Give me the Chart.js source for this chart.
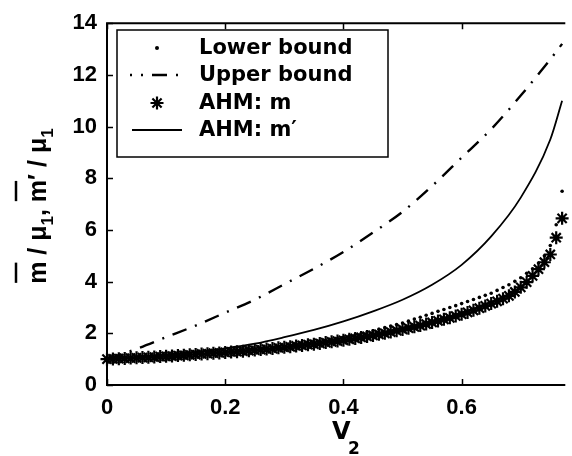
<!DOCTYPE html>
<html>
<head>
<meta charset="utf-8">
<title>Effective moduli against V2</title>
<script src="https://cdn.jsdelivr.net/npm/chart.js@4.4.1/dist/chart.umd.min.js"></script>
<style>
  html, body { margin: 0; padding: 0; background: #fff; }
  canvas { display: block; }
</style>
</head>
<body>
<canvas id="chart" width="572" height="456"></canvas>
<script>
// V2 samples used by the two marker series
const v2Samples = [
  0.00, 0.01, 0.02, 0.03, 0.04, 0.05, 0.06, 0.07, 0.08, 0.09,
  0.10, 0.11, 0.12, 0.13, 0.14, 0.15, 0.16, 0.17, 0.18, 0.19,
  0.20, 0.21, 0.22, 0.23, 0.24, 0.25, 0.26, 0.27, 0.28, 0.29,
  0.30, 0.31, 0.32, 0.33, 0.34, 0.35, 0.36, 0.37, 0.38, 0.39,
  0.40, 0.41, 0.42, 0.43, 0.44, 0.45, 0.46, 0.47, 0.48, 0.49,
  0.50, 0.51, 0.52, 0.53, 0.54, 0.55, 0.56, 0.57, 0.58, 0.59,
  0.60, 0.61, 0.62, 0.63, 0.64, 0.65, 0.66, 0.67, 0.68, 0.69,
  0.70, 0.71, 0.72, 0.73, 0.74, 0.75, 0.76, 0.77
];
const lowerBound = [
  1.00, 1.01, 1.02, 1.03, 1.04, 1.05, 1.06, 1.07, 1.09, 1.10,
  1.12, 1.13, 1.15, 1.16, 1.18, 1.19, 1.21, 1.23, 1.25, 1.26,
  1.28, 1.30, 1.32, 1.34, 1.36, 1.38, 1.41, 1.43, 1.45, 1.48,
  1.50, 1.53, 1.56, 1.59, 1.62, 1.65, 1.69, 1.72, 1.76, 1.80,
  1.85, 1.90, 1.95, 2.00, 2.05, 2.10, 2.16, 2.22, 2.28, 2.34,
  2.40, 2.47, 2.55, 2.62, 2.70, 2.77, 2.85, 2.92, 3.00, 3.07,
  3.15, 3.23, 3.31, 3.39, 3.47, 3.55, 3.66, 3.77, 3.88, 4.01,
  4.15, 4.32, 4.50, 4.72, 5.00, 5.40, 6.20, 7.50
];
const ahmM = [
  1.00, 1.01, 1.02, 1.03, 1.04, 1.05, 1.06, 1.07, 1.08, 1.10,
  1.11, 1.12, 1.14, 1.15, 1.17, 1.18, 1.20, 1.21, 1.23, 1.24,
  1.26, 1.28, 1.29, 1.31, 1.33, 1.35, 1.37, 1.39, 1.41, 1.44,
  1.46, 1.48, 1.51, 1.53, 1.56, 1.58, 1.61, 1.64, 1.67, 1.70,
  1.73, 1.77, 1.80, 1.84, 1.88, 1.92, 1.96, 2.00, 2.05, 2.10,
  2.15, 2.20, 2.25, 2.30, 2.36, 2.42, 2.48, 2.54, 2.60, 2.67,
  2.74, 2.81, 2.89, 2.97, 3.06, 3.15, 3.24, 3.34, 3.45, 3.60,
  3.78, 3.98, 4.22, 4.48, 4.75, 5.05, 5.70, 6.45
];

// coarser samples for the two smooth curves
const v2Curve = [0, 0.05, 0.10, 0.15, 0.20, 0.25, 0.30, 0.35, 0.40, 0.45, 0.50, 0.55, 0.60, 0.65, 0.70, 0.75, 0.77];
const upperBound = [1.00, 1.40, 1.85, 2.30, 2.80, 3.30, 3.90, 4.50, 5.15, 5.90, 6.70, 7.70, 8.80, 9.90, 11.20, 12.60, 13.20];
const ahmMPrime = [1.00, 1.08, 1.17, 1.28, 1.42, 1.60, 1.85, 2.13, 2.46, 2.85, 3.30, 3.88, 4.65, 5.75, 7.25, 9.50, 11.00];

const xTicks = [0, 0.2, 0.4, 0.6];
const yTicks = [0, 2, 4, 6, 8, 10, 12, 14];
const xMax = 0.772;

const FONT = '"Liberation Sans", Arial, Helvetica, sans-serif';
const WIDE_FONT = '"DejaVu Sans", Verdana, sans-serif';
const UPPER_DASH = [15, 9, 2, 9];

const toPoints = (xs, ys) => xs.map((x, i) => ({ x: x, y: ys[i] }));

function drawStar(ctx, x, y, r) {
  ctx.beginPath();
  for (let k = 0; k < 4; k++) {
    const a = k * Math.PI / 4;
    ctx.moveTo(x - r * Math.cos(a), y - r * Math.sin(a));
    ctx.lineTo(x + r * Math.cos(a), y + r * Math.sin(a));
  }
  ctx.stroke();
}

// draws a run of text pieces left to right, with optional overbar / subscript drop
function drawPieces(ctx, pieces, x0, y0) {
  let x = x0;
  pieces.forEach(p => {
    ctx.font = p.font;
    const w = ctx.measureText(p.text).width;
    ctx.fillText(p.text, x, y0 + (p.dy || 0));
    if (p.bar) {
      ctx.beginPath();
      ctx.moveTo(x + 1, y0 - p.bar);
      ctx.lineTo(x + w - 1, y0 - p.bar);
      ctx.stroke();
    }
    x += w;
  });
  return x - x0;
}

function piecesWidth(ctx, pieces) {
  return pieces.reduce((s, p) => { ctx.font = p.font; return s + ctx.measureText(p.text).width; }, 0);
}

const decorations = {
  id: 'decorations',
  beforeDraw(chart) {
    const ctx = chart.ctx;
    ctx.save();
    ctx.fillStyle = '#fff';
    ctx.fillRect(0, 0, chart.width, chart.height);
    ctx.restore();
  },
  afterDraw(chart) {
    const { ctx, chartArea: a, scales: { x, y } } = chart;
    ctx.save();
    ctx.strokeStyle = '#000';
    ctx.fillStyle = '#000';

    // axes box (right side runs off the canvas)
    ctx.lineWidth = 2;
    ctx.beginPath();
    ctx.moveTo(a.right + 2, a.top);
    ctx.lineTo(a.left, a.top);
    ctx.lineTo(a.left, a.bottom);
    ctx.lineTo(a.right + 2, a.bottom);
    ctx.stroke();

    // inward tick marks
    ctx.lineWidth = 1.5;
    ctx.beginPath();
    xTicks.forEach(v => {
      const px = Math.round(x.getPixelForValue(v)) + 0.5;
      ctx.moveTo(px, a.bottom); ctx.lineTo(px, a.bottom - 6);
      ctx.moveTo(px, a.top); ctx.lineTo(px, a.top + 6);
    });
    yTicks.forEach(v => {
      const py = Math.round(y.getPixelForValue(v)) + 0.5;
      ctx.moveTo(a.left, py); ctx.lineTo(a.left + 6, py);
    });
    ctx.stroke();

    // legend box
    const box = { left: 117, top: 30, right: 388, bottom: 157 };
    ctx.fillStyle = '#fff';
    ctx.fillRect(box.left, box.top, box.right - box.left, box.bottom - box.top);
    ctx.lineWidth = 1.5;
    ctx.strokeRect(box.left, box.top, box.right - box.left, box.bottom - box.top);

    const rowY = [48, 75, 103, 130];
    const sx0 = 130, sx1 = 184, sxm = 157;
    ctx.fillStyle = '#000';
    ctx.font = 'bold 21px ' + WIDE_FONT;
    ctx.textBaseline = 'middle';
    ctx.textAlign = 'left';
    chart.data.datasets.forEach((ds, i) => {
      const ry = rowY[i];
      ctx.setLineDash([]);
      if (ds.legendKind === 'dot') {
        ctx.beginPath(); ctx.arc(sxm, ry, 2, 0, Math.PI * 2); ctx.fill();
      } else if (ds.legendKind === 'dashdot') {
        ctx.lineWidth = ds.borderWidth;
        ctx.setLineDash(UPPER_DASH);
        ctx.lineDashOffset = 13;
        ctx.beginPath(); ctx.moveTo(sx0, ry); ctx.lineTo(sx1, ry); ctx.stroke();
        ctx.setLineDash([]);
        ctx.lineDashOffset = 0;
      } else if (ds.legendKind === 'star') {
        ctx.lineWidth = 2.2;
        drawStar(ctx, sxm, ry, 6.5);
      } else {
        ctx.lineWidth = ds.borderWidth;
        ctx.beginPath(); ctx.moveTo(sx0 + 2, ry); ctx.lineTo(sx1 - 2, ry); ctx.stroke();
      }
      ctx.fillText(ds.label, 199, ry + 1);
    });

    // x axis title: V with subscript 2
    ctx.textBaseline = 'alphabetic';
    ctx.font = 'bold 24px ' + WIDE_FONT;
    ctx.fillText('V', 332, 439);
    ctx.font = 'bold 17px ' + WIDE_FONT;
    ctx.fillText('2', 348, 454);

    // y axis title, rotated: m-bar / mu1, m-bar' / mu1
    const big = 'bold 25px ' + FONT, small = 'bold 17px ' + FONT;
    const pieces = [
      { text: 'm', font: big, bar: 30 }, { text: ' / ', font: big }, { text: 'μ', font: big },
      { text: '1', font: small, dy: 7 }, { text: ', ', font: big },
      { text: 'm', font: big, bar: 30 }, { text: '′', font: big }, { text: ' / ', font: big },
      { text: 'μ', font: big }, { text: '1', font: small, dy: 7 }
    ];
    ctx.save();
    ctx.translate(46, (a.top + a.bottom) / 2 + 2);
    ctx.rotate(-Math.PI / 2);
    ctx.lineWidth = 2.5;
    const tw = piecesWidth(ctx, pieces);
    drawPieces(ctx, pieces, -tw / 2, 0);
    ctx.restore();

    ctx.restore();
  }
};

new Chart(document.getElementById('chart'), {
  type: 'line',
  data: {
    datasets: [
      {
        label: 'Lower bound',
        legendKind: 'dot',
        data: toPoints(v2Samples, lowerBound),
        showLine: false,
        pointStyle: 'circle',
        pointRadius: 1.8,
        pointBorderWidth: 0,
        pointBackgroundColor: '#000',
        clip: false
      },
      {
        label: 'Upper bound',
        legendKind: 'dashdot',
        data: toPoints(v2Curve, upperBound),
        borderColor: '#000',
        borderWidth: 2.4,
        borderDash: UPPER_DASH,
        cubicInterpolationMode: 'monotone',
        pointRadius: 0,
        fill: false
      },
      {
        label: 'AHM: m',
        legendKind: 'star',
        data: toPoints(v2Samples, ahmM),
        showLine: false,
        pointStyle: 'star',
        pointRadius: 6.5,
        pointBorderWidth: 2.2,
        pointBorderColor: '#000',
        pointBackgroundColor: '#000',
        clip: false
      },
      {
        label: 'AHM: m′',
        legendKind: 'solid',
        data: toPoints(v2Curve, ahmMPrime),
        borderColor: '#000',
        borderWidth: 1.8,
        cubicInterpolationMode: 'monotone',
        pointRadius: 0,
        fill: false
      }
    ]
  },
  options: {
    responsive: false,
    devicePixelRatio: 1,
    animation: false,
    events: [],
    layout: { padding: { left: 0, top: 17, right: 0, bottom: 0 } },
    plugins: { legend: { display: false }, tooltip: { enabled: false } },
    scales: {
      x: {
        type: 'linear',
        min: 0,
        max: xMax,
        grid: { display: false, drawTicks: false },
        border: { display: false },
        afterBuildTicks: scale => { scale.ticks = xTicks.map(v => ({ value: v })); },
        afterFit: scale => { scale.height = 71; },
        ticks: {
          color: '#000',
          padding: 10,
          maxRotation: 0,
          font: { family: FONT, size: 22, weight: 'bold' }
        }
      },
      y: {
        type: 'linear',
        min: 0,
        max: 14,
        grid: { display: false, drawTicks: false },
        border: { display: false },
        afterBuildTicks: scale => { scale.ticks = yTicks.map(v => ({ value: v })); },
        afterFit: scale => { scale.width = 107; },
        ticks: {
          color: '#000',
          padding: 10,
          font: { family: FONT, size: 22, weight: 'bold' }
        }
      }
    }
  },
  plugins: [decorations]
});
</script>
</body>
</html>
